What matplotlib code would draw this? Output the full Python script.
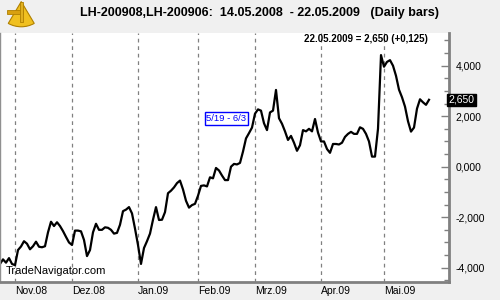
import numpy as np
import pandas as pd
import matplotlib
matplotlib.use("Agg")
import matplotlib.pyplot as plt
from matplotlib.patches import Wedge, Rectangle
from matplotlib.ticker import MultipleLocator, FuncFormatter

plt.rcParams["font.family"] = ["Liberation Sans", "DejaVu Sans"]

# -----------------------------
# Data: LH-200908 / LH-200906 spread, daily closes
# -----------------------------
START = "2008-10-27"
END = "2009-05-22"
HOLIDAYS = ["2008-11-27", "2008-12-25", "2009-01-01", "2009-01-19",
            "2009-02-16", "2009-04-10"]

spread = [
    -3.85, -3.67, -3.80, -3.62, -3.85, -3.90, -3.30, -3.16, -2.95, -3.05,
    -3.27, -3.15, -2.97, -3.17, -3.19, -3.15, -2.60, -2.18, -2.35, -2.20,
    -2.35, -2.55, -2.78, -3.00, -3.10, -2.53, -2.53, -2.56, -2.90, -3.54,
    -3.30, -2.60, -2.26, -2.50, -2.50, -2.40, -2.42, -2.50, -2.65, -2.62,
    -2.30, -1.76, -1.70, -1.60, -1.85, -2.45, -3.10, -3.85, -3.22, -2.95,
    -2.65, -2.10, -1.60, -2.11, -2.10, -1.80, -1.05, -0.95, -0.82, -0.65,
    -0.55, -0.90, -1.35, -1.62, -1.52, -1.47, -1.15, -0.76, -0.74, -0.78,
    -0.42, -0.46, -0.05, -0.15, -0.35, -0.53, -0.53, 0.00, 0.11, 0.09,
    0.15, 0.60, 1.12, 1.33, 1.55, 2.10, 2.27, 2.22, 1.72, 1.45,
    2.15, 2.22, 3.04, 1.92, 1.70, 1.40, 1.06, 1.22, 0.95, 0.63,
    0.85, 1.45, 1.40, 1.50, 1.40, 1.89, 1.35, 1.00, 1.00, 0.70,
    0.55, 0.90, 0.90, 0.88, 0.95, 1.18, 1.30, 1.38, 1.30, 1.30,
    1.56, 1.50, 1.30, 1.00, 0.40, 0.40, 1.50, 4.42, 3.96, 4.15,
    4.22, 4.00, 3.60, 3.05, 2.75, 2.38, 1.80, 1.39, 1.55, 2.30,
    2.67, 2.55, 2.45, 2.65,
]

MONTH_NAMES = {1: "Jan", 2: "Feb", 3: "Mrz", 4: "Apr", 5: "Mai",
               11: "Nov", 12: "Dez"}

LAST_LABEL = "22.05.2009 = 2,650 (+0,125)"
SEASON_LABEL = "5/19 - 6/3"
SEASON_POS = (75.5, 1.91)

# -----------------------------
# Trading calendar
# -----------------------------
bday = pd.offsets.CustomBusinessDay(holidays=HOLIDAYS)
days = pd.date_range(START, END, freq=bday)
x = np.arange(len(days))
month_start = [i for i in range(1, len(days)) if days[i].month != days[i - 1].month]
month_labels = [f"{MONTH_NAMES[days[i].month]}.{days[i]:%y}" for i in month_start]

# -----------------------------
# Figure
# -----------------------------
BG = "#f0f0f0"
fig = plt.figure(figsize=(5, 3), dpi=100, facecolor=BG)
ax = fig.add_axes([0.0, 0.06, 0.897, 0.83])
ax.set_facecolor("white")

ax.plot(x, spread, color="black", lw=1.6, solid_joinstyle="round")

for i in month_start:
    ax.axvline(i, color="#808080", lw=0.9, ls=(0, (3, 3)), zorder=0)

ax.set_xlim(0, 149.5)
ax.set_ylim(-4.566, 5.295)

# spines
for s in ["top"]:
    ax.spines[s].set_visible(False)
ax.spines["left"].set_color("#909090")
ax.spines["left"].set_linewidth(1.0)
for s in ["right", "bottom"]:
    ax.spines[s].set_color("#808080")
    ax.spines[s].set_linewidth(2.0)

# y axis on the right
ax.yaxis.tick_right()
ax.yaxis.set_major_locator(MultipleLocator(2))
ax.yaxis.set_minor_locator(MultipleLocator(0.5))
ax.yaxis.set_major_formatter(FuncFormatter(lambda v, p: f"{v:.3f}".replace(".", ",")))
ax.tick_params(axis="y", which="major", direction="in", length=6, width=1,
               color="#808080", labelsize=7.5, pad=5)
ax.tick_params(axis="y", which="minor", direction="in", length=3.5, width=1,
               color="#808080")

# x axis: month labels left-aligned at month start
ax.set_xticks(month_start)
ax.set_xticklabels(month_labels, ha="left", fontsize=7.5)
ax.tick_params(axis="x", length=0, pad=3)

# texts
ax.text(0.012, 0.025, "TradeNavigator.com", transform=ax.transAxes,
        fontsize=8, ha="left", va="bottom")
ax.text(0.955, 0.975, LAST_LABEL, transform=ax.transAxes, fontsize=7,
        fontweight="bold", ha="right", va="center")
ax.text(SEASON_POS[0], SEASON_POS[1], SEASON_LABEL, fontsize=6.8, color="#0000ff",
        ha="center", va="center",
        bbox=dict(boxstyle="square,pad=0.2", fc="white", ec="#0000ff", lw=1))
ax.text(1.0, spread[-1], f"{spread[-1]:.3f}".replace(".", ","),
        transform=ax.get_yaxis_transform(), fontsize=7.5, color="white",
        ha="left", va="center",
        bbox=dict(boxstyle="square,pad=0.12", fc="black", ec="black"))

fig.text(0.52, 0.958, "LH-200908,LH-200906:  14.05.2008  - 22.05.2009   (Daily bars)",
         fontsize=9, fontweight="bold", ha="center", va="center")

# small sextant-like logo
logo = fig.add_axes([0.01, 0.895, 0.065, 0.105])
logo.set_xlim(0, 1)
logo.set_ylim(0, 1)
logo.axis("off")
logo.add_patch(Wedge((0.5, 0.95), 0.8, 240, 300, fc="#f0c020", ec="#b08000", lw=0.8))
logo.add_patch(Rectangle((0.05, 0.55), 0.5, 0.12, fc="#d8a010", ec="#b08000", lw=0.6))
logo.add_patch(Rectangle((0.45, 0.3), 0.1, 0.65, fc="#e0b020", ec="#b08000", lw=0.6))

fig.savefig("out.png", dpi=100, facecolor=BG)
